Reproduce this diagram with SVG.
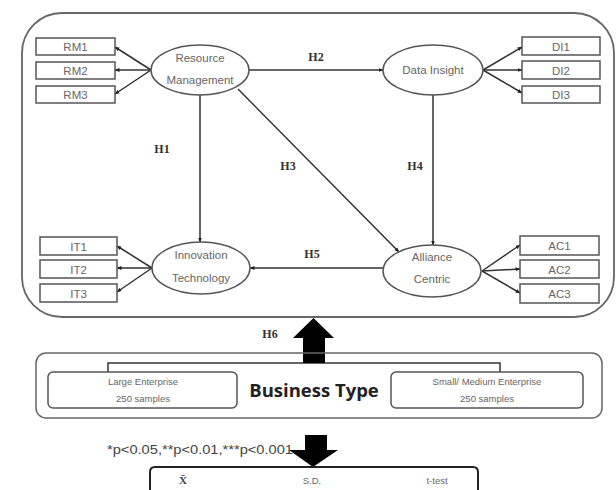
<svg xmlns="http://www.w3.org/2000/svg" width="616" height="490" viewBox="0 0 616 490">
<defs>
<marker id="ah" viewBox="0 0 10 10" refX="9" refY="5" markerWidth="5" markerHeight="5" orient="auto" markerUnits="userSpaceOnUse">
<path d="M0,1 L10,5 L0,9 z" fill="#222"/>
</marker>
<style>
.box{fill:#fff;stroke:#555;stroke-width:1.5}
.ell{fill:#fff;stroke:#555;stroke-width:1.5}
.t{font-family:"Liberation Sans",Arial,sans-serif;font-size:11.5px;fill:#666;text-anchor:middle}
.ts{font-family:"Liberation Sans",Arial,sans-serif;font-size:9.5px;fill:#666;text-anchor:middle}
.h{font-family:"Liberation Serif","Times New Roman",serif;font-size:12px;font-weight:bold;fill:#333;text-anchor:middle}
.ln{stroke:#333;stroke-width:1.5;fill:none}
.lna{stroke:#333;stroke-width:1.5;fill:none;marker-end:url(#ah)}
</style>
</defs>
<rect width="616" height="490" fill="#fff"/>
<rect id="outer" x="22" y="13" width="592" height="304" rx="40" ry="40" fill="none" stroke="#666" stroke-width="1.8"/>

<g id="connectors">
<line class="lna" x1="151" y1="70" x2="115" y2="47"/>
<line class="lna" x1="151" y1="70" x2="115" y2="70"/>
<line class="lna" x1="151" y1="70" x2="115" y2="94"/>
<line class="lna" x1="483" y1="70" x2="522" y2="47"/>
<line class="lna" x1="483" y1="70" x2="522" y2="70"/>
<line class="lna" x1="483" y1="70" x2="522" y2="93"/>
<line class="lna" x1="152" y1="268" x2="117" y2="246"/>
<line class="lna" x1="152" y1="268" x2="117" y2="268"/>
<line class="lna" x1="152" y1="268" x2="117" y2="292"/>
<line class="lna" x1="482" y1="271" x2="520" y2="245"/>
<line class="lna" x1="482" y1="271" x2="520" y2="269"/>
<line class="lna" x1="482" y1="271" x2="520" y2="293"/>
<line class="lna" x1="249" y1="70" x2="383" y2="70"/>
<line class="lna" x1="200" y1="95" x2="200" y2="242"/>
<line class="lna" x1="238" y1="89" x2="399" y2="252"/>
<line class="lna" x1="433" y1="95" x2="433" y2="245"/>
<line class="lna" x1="383" y1="268" x2="250" y2="268"/>
<path class="ln" d="M108,372 V363 H500 V372"/>
<polygon points="303,363 303,338 293,338 313.5,318 334,338 325,338 325,363" fill="#000"/>
<polygon points="305,435 327,435 327,450 338,450 313,467 289,450 305,450" fill="#000"/>
</g>

<text class="h" x="316" y="61">H2</text>
<text class="h" x="162" y="153">H1</text>
<text class="h" x="288" y="170">H3</text>
<text class="h" x="415" y="170">H4</text>
<text class="h" x="312" y="258">H5</text>
<text class="h" x="270" y="338">H6</text>

<g id="RM1"><rect class="box" x="36" y="38" width="79" height="17"/><text class="t" x="75.5" y="51">RM1</text></g>
<g id="RM2"><rect class="box" x="36" y="62" width="79" height="17"/><text class="t" x="75.5" y="75">RM2</text></g>
<g id="RM3"><rect class="box" x="36" y="86" width="79" height="17"/><text class="t" x="75.5" y="99">RM3</text></g>

<g id="DI1"><rect class="box" x="522" y="37" width="78" height="18"/><text class="t" x="561" y="50.5">DI1</text></g>
<g id="DI2"><rect class="box" x="522" y="61" width="78" height="18"/><text class="t" x="561" y="74.5">DI2</text></g>
<g id="DI3"><rect class="box" x="522" y="86" width="78" height="17"/><text class="t" x="561" y="99">DI3</text></g>

<g id="IT1"><rect class="box" x="40" y="237" width="77" height="18"/><text class="t" x="78.5" y="250.5">IT1</text></g>
<g id="IT2"><rect class="box" x="40" y="260" width="77" height="18"/><text class="t" x="78.5" y="273.5">IT2</text></g>
<g id="IT3"><rect class="box" x="40" y="284" width="77" height="18"/><text class="t" x="78.5" y="297.5">IT3</text></g>

<g id="AC1"><rect class="box" x="520" y="236" width="79" height="19"/><text class="t" x="559.5" y="250">AC1</text></g>
<g id="AC2"><rect class="box" x="520" y="260" width="79" height="18"/><text class="t" x="559.5" y="273.5">AC2</text></g>
<g id="AC3"><rect class="box" x="520" y="284" width="79" height="19"/><text class="t" x="559.5" y="298">AC3</text></g>

<g id="ResourceManagement"><ellipse class="ell" cx="200" cy="70" rx="49" ry="25"/><text class="t" x="200" y="62">Resource</text><text class="t" x="200" y="84">Management</text></g>
<g id="DataInsight"><ellipse class="ell" cx="433" cy="70" rx="50" ry="25"/><text class="t" x="433" y="74">Data Insight</text></g>
<g id="InnovationTechnology"><ellipse class="ell" cx="201" cy="268" rx="49" ry="26"/><text class="t" x="201" y="259">Innovation</text><text class="t" x="201" y="282">Technology</text></g>
<g id="AllianceCentric"><ellipse class="ell" cx="432" cy="271" rx="49" ry="26"/><text class="t" x="432" y="261">Alliance</text><text class="t" x="432" y="283">Centric</text></g>

<g id="BusinessType">
<rect x="36" y="353" width="566" height="65" rx="10" ry="10" fill="none" stroke="#666" stroke-width="1.5"/>
<text x="314" y="397" font-family="'Open Sans','Liberation Sans',sans-serif" font-size="18.5" font-weight="bold" fill="#222" text-anchor="middle">Business Type</text>
</g>
<g id="LargeEnterprise"><rect class="box" x="48" y="372" width="189" height="36" rx="5" ry="5"/><text class="ts" x="143" y="385">Large Enterprise</text><text class="ts" x="143" y="402">250 samples</text></g>
<g id="SmallMedium"><rect class="box" x="391" y="372" width="192" height="36" rx="5" ry="5"/><text class="ts" x="487" y="385">Small/ Medium Enterprise</text><text class="ts" x="487" y="402">250 samples</text></g>

<text x="107" y="454" font-family="'Liberation Sans',Arial,sans-serif" font-size="13" fill="#444" textLength="186" lengthAdjust="spacingAndGlyphs">*p&lt;0.05,**p&lt;0.01,***p&lt;0.001</text>

<g id="table">
<path d="M150,492 V472 Q150,467 155,467 H473 Q478,467 478,472 V492" fill="none" stroke="#222" stroke-width="2"/>
<text x="183" y="484" font-family="'Liberation Serif',serif" font-size="11" font-weight="bold" fill="#444" text-anchor="middle">X̄</text>
<text class="ts" x="312" y="484">S.D.</text>
<text class="ts" x="437" y="484">t-test</text>
</g>
</svg>
